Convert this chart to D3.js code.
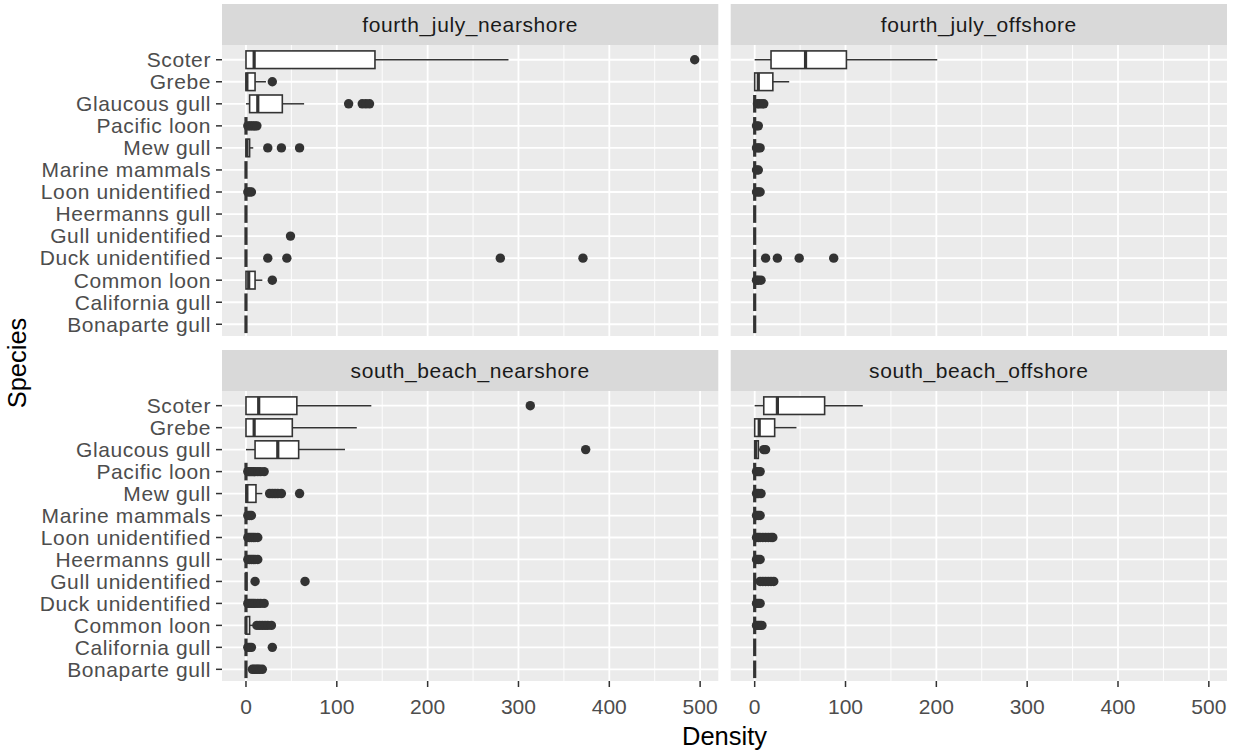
<!DOCTYPE html>
<html><head><meta charset="utf-8">
<script src="https://cdn.jsdelivr.net/npm/d3@7"></script>
<style>body{margin:0;background:#fff} text{font-family:"Liberation Sans",Arial,sans-serif} .lbl{letter-spacing:0.6px}</style>
</head><body><svg id="c" width="1236" height="753"></svg>
<script>
const species = ["Scoter","Grebe","Glaucous gull","Pacific loon","Mew gull","Marine mammals","Loon unidentified","Heermanns gull","Gull unidentified","Duck unidentified","Common loon","California gull","Bonaparte gull"];
const facetNames = ["fourth_july_nearshore","fourth_july_offshore","south_beach_nearshore","south_beach_offshore"];
const xTicks = [0,100,200,300,400,500];
const xMinor = [50,150,250,350,450];

// [lower whisker, Q1, median, Q3, upper whisker] in species order
const statsFJN = [[0,0,9,142,289],[0,0,1,10,22],[0,4,13,40,64],[0,0,0,0,0],[0,0,1,4,8],[0,0,0,0,0],[0,0,0,0,0],[0,0,0,0,0],[0,0,0,0,0],[0,0,0,0,0],[0,0,3,10,18],[0,0,0,0,0],[0,0,0,0,0]];
const outFJN = [[494],[29],[113,128,132,136],[2,4,6,8,10,12],[24,39,59],[],[2,4,6],[],[49],[24,45,280,371],[29],[],[]];

const statsFJO = [[0,18,56,101,201],[0,0,4,20,38],[0,0,0,0,0],[0,0,0,0,0],[0,0,0,0,0],[0,0,0,0,0],[0,0,0,0,0],[0,0,0,0,0],[0,0,0,0,0],[0,0,0,0,0],[0,0,0,0,0],[0,0,0,0,0],[0,0,0,0,0]];
const outFJO = [[],[],[3,5,8,10],[2,4],[2,4,6],[2,4],[2,4,6],[],[],[12,25,49,87],[2,4,7],[],[]];

const statsSBN = [[0,0,14,56,138],[0,0,9,51,122],[0,10,35,58,109],[0,0,0,0,0],[0,0,1,11,18],[0,0,0,0,0],[0,0,0,0,0],[0,0,0,0,0],[0,0,0,1,1],[0,0,0,0,0],[0,0,0,4,8],[0,0,0,0,0],[0,0,0,0,0]];
const outSBN = [[313],[],[374],[2,4,6,8,10,13,16,20],[26,29,32,35,39,59],[2,4,6],[2,4,6,8,10,13],[2,4,6,8,10,13],[10,65],[2,4,6,8,10,13,16,20],[12,15,18,21,24,28],[2,4,6,29],[7,9,11,13,15,18]];

const statsSBO = [[0,10,25,77,119],[0,0,5,22,46],[0,0,1,4,6],[0,0,0,0,0],[0,0,0,0,0],[0,0,0,0,0],[0,0,0,0,0],[0,0,0,0,0],[0,0,0,0,0],[0,0,0,0,0],[0,0,0,0,0],[0,0,0,0,0],[0,0,0,0,0]];
const outSBO = [[],[],[10,12],[2,4,6],[2,4,7],[2,4,6],[2,4,6,9,12,15,18,20],[2,4,6],[6,9,12,15,18,21],[2,4,6],[2,4,6,8],[],[]];

const facetStats = [statsFJN, statsFJO, statsSBN, statsSBO];
const facetOut = [outFJN, outFJO, outSBN, outSBO];

const svg = d3.select("#c");
const cols = [[222,718.3],[730.7,1227]];
const rows = [{s0:4,p0:45,p1:336},{s0:350,p0:391,p1:681}];
const dark = "#333333";
const fs = 21;

facetNames.forEach((name, i) => {
  const col = cols[i % 2], row = rows[Math.floor(i / 2)];
  const x = d3.scaleLinear().domain([-26.4, 520]).range(col);
  const y = d3.scalePoint().domain(species).range([row.p0 + 1.5, row.p1 + 1.5]).padding(0.6);
  const g = svg.append("g");
  // strip
  g.append("rect").attr("x", col[0]).attr("y", row.s0).attr("width", col[1]-col[0]).attr("height", row.p0-row.s0).attr("fill", "#D9D9D9");
  g.append("text").attr("class","lbl").attr("x", (col[0]+col[1])/2).attr("y", (row.s0+row.p0)/2).attr("dy","0.35em")
    .attr("text-anchor","middle").attr("font-size", fs).attr("fill","#1A1A1A").text(name);
  // panel
  g.append("rect").attr("x", col[0]).attr("y", row.p0).attr("width", col[1]-col[0]).attr("height", row.p1-row.p0).attr("fill", "#EBEBEB");
  g.selectAll(".mn").data(xMinor).join("line").attr("x1", d=>x(d)).attr("x2", d=>x(d)).attr("y1", row.p0).attr("y2", row.p1).attr("stroke","#fff").attr("stroke-width",0.9);
  g.selectAll(".mj").data(xTicks).join("line").attr("x1", d=>x(d)).attr("x2", d=>x(d)).attr("y1", row.p0).attr("y2", row.p1).attr("stroke","#fff").attr("stroke-width",1.8);
  g.selectAll(".hy").data(species).join("line").attr("x1", col[0]).attr("x2", col[1]).attr("y1", d=>y(d)).attr("y2", d=>y(d)).attr("stroke","#fff").attr("stroke-width",1.8);

  const st = facetStats[i], out = facetOut[i];
  const bh = y.step() * 0.8;
  species.forEach((sp, k) => {
    const [lo,q1,md,q3,hi] = st[k];
    const cy = y(sp);
    const b = g.append("g");
    b.append("line").attr("x1", x(lo)).attr("x2", x(q1)).attr("y1", cy).attr("y2", cy).attr("stroke", dark).attr("stroke-width", 1.5);
    b.append("line").attr("x1", x(q3)).attr("x2", x(hi)).attr("y1", cy).attr("y2", cy).attr("stroke", dark).attr("stroke-width", 1.5);
    b.append("rect").attr("x", x(q1)).attr("y", cy-bh/2).attr("width", x(q3)-x(q1)).attr("height", bh)
      .attr("fill","#fff").attr("stroke", dark).attr("stroke-width", 1.6);
    b.append("line").attr("x1", x(md)).attr("x2", x(md)).attr("y1", cy-bh/2).attr("y2", cy+bh/2).attr("stroke", dark).attr("stroke-width", 3.2);
    b.selectAll("circle").data(out[k]).join("circle").attr("cx", d=>x(d)).attr("cy", cy).attr("r", 4.7).attr("fill", dark);
  });

  // axes
  if (i % 2 === 0) {
    g.selectAll(".yt").data(species).join("line").attr("x1", col[0]-6).attr("x2", col[0]).attr("y1", d=>y(d)).attr("y2", d=>y(d)).attr("stroke", dark).attr("stroke-width",1.5);
    g.selectAll(".yl").data(species).join("text").attr("class","lbl").attr("x", col[0]-11).attr("y", d=>y(d)).attr("dy","0.35em")
      .attr("text-anchor","end").attr("font-size",fs).attr("fill","#4D4D4D").text(d=>d);
  }
  if (i >= 2) {
    g.selectAll(".xt").data(xTicks).join("line").attr("x1", d=>x(d)).attr("x2", d=>x(d)).attr("y1", row.p1).attr("y2", row.p1+6).attr("stroke", dark).attr("stroke-width",1.5);
    g.selectAll(".xl").data(xTicks).join("text").attr("x", d=>x(d)).attr("y", row.p1+33)
      .attr("text-anchor","middle").attr("font-size",fs).attr("fill","#4D4D4D").text(d=>d);
  }
});

svg.append("text").attr("x", (cols[0][0]+cols[1][1])/2).attr("y", 745).attr("text-anchor","middle").attr("font-size",25.5).attr("fill","#000").text("Density");
svg.append("text").attr("transform","translate(26,363) rotate(-90)").attr("text-anchor","middle").attr("font-size",25.5).attr("fill","#000").text("Species");
</script></body></html>
